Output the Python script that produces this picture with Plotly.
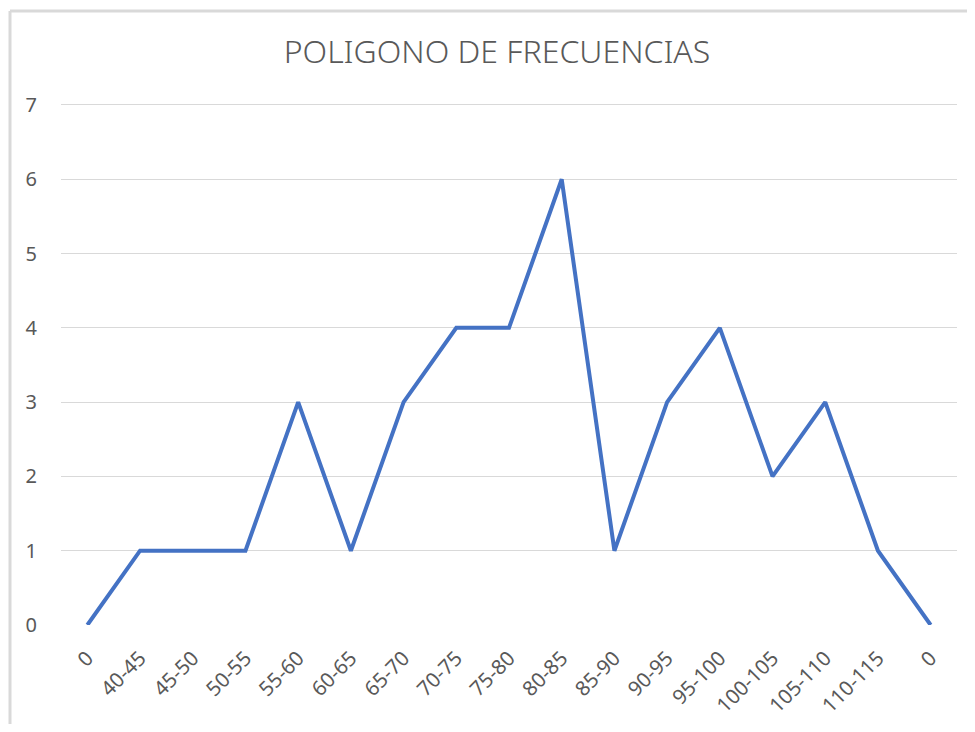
import plotly.graph_objects as go

categories = ["0", "40-45", "45-50", "50-55", "55-60", "60-65", "65-70", "70-75",
              "75-80", "80-85", "85-90", "90-95", "95-100", "100-105", "105-110",
              "110-115", "0"]
frequencies = [0, 1, 1, 1, 3, 1, 3, 4, 4, 6, 1, 3, 4, 2, 3, 1, 0]
positions = list(range(len(categories)))

# page body adds an 8px offset; layout below compensates for it
L, T, PW, PH = 53, 94, 896, 523
W, H = 959, 716

fig = go.Figure()
fig.add_trace(go.Scatter(
    x=positions, y=frequencies, mode="lines",
    line=dict(color="#4472C4", width=4),
    showlegend=False, hoverinfo="y"
))

font_family = "Noto Sans, Open Sans, sans-serif"
fig.update_layout(
    width=W, height=H,
    paper_bgcolor="white", plot_bgcolor="white",
    margin=dict(l=L, r=W - L - PW, t=T, b=H - T - PH),
    title=dict(text="POLIGONO DE FRECUENCIAS", x=(497 - 8) / W, xanchor="center",
               y=1 - (52 - 8) / H, yanchor="middle",
               font=dict(family=font_family, size=32, color="#595959", weight=300)),
    font=dict(family=font_family, color="#595959"),
    xaxis=dict(
        range=[-0.5, len(categories) - 0.5], automargin=False,
        tickmode="array", tickvals=positions, ticktext=categories,
        tickangle=-45, tickfont=dict(size=20.5, color="#595959"),
        showgrid=False, zeroline=False, showline=False,
        ticks="outside", ticklen=12, tickcolor="rgba(0,0,0,0)",
    ),
    yaxis=dict(
        range=[0, 7.04], dtick=1, tick0=0, automargin=False,
        tickfont=dict(size=20, color="#595959"),
        showgrid=True, gridcolor="#D9D9D9", gridwidth=1,
        zeroline=False, showline=False,
        ticks="outside", ticklen=19, tickcolor="rgba(0,0,0,0)",
    ),
    shapes=[
        dict(type="line", xref="paper", yref="paper",
             x0=-(L - 2) / PW, x1=-(L - 2) / PW, y0=-(H - T - PH) / PH, y1=(PH + T - 3) / PH,
             line=dict(color="#D9D9D9", width=3)),
        dict(type="line", xref="paper", yref="paper",
             x0=-(L - 2) / PW, x1=(W - L) / PW, y0=(PH + T - 3) / PH, y1=(PH + T - 3) / PH,
             line=dict(color="#D9D9D9", width=3)),
    ],
)

fig.write_html("out.html")
